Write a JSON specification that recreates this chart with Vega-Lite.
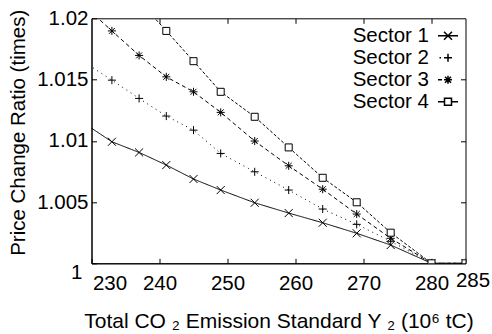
{
  "$schema": "https://vega.github.io/schema/vega-lite/v6.json",
  "width": 374,
  "height": 245,
  "autosize": {"type": "none"},
  "padding": {"left": 91.5, "top": 18.3, "right": 26.5, "bottom": 70.7},
  "background": "white",
  "config": {
    "view": {"stroke": "black", "strokeWidth": 1},
    "font": "Liberation Sans",
    "axis": {"grid": false, "domainColor": "black", "tickColor": "black", "labelColor": "black", "titleColor": "black", "labelFont": "Liberation Sans", "titleFont": "Liberation Sans", "titleFontWeight": "normal", "labelOverlap": false, "labelFlush": false}
  },
  "data": {
    "values": [
      {"sector": "Sector 1", "x": 229, "y": 1.0114},
      {"sector": "Sector 1", "x": 233, "y": 1.00992},
      {"sector": "Sector 1", "x": 237, "y": 1.00905},
      {"sector": "Sector 1", "x": 241, "y": 1.00802},
      {"sector": "Sector 1", "x": 245, "y": 1.00688},
      {"sector": "Sector 1", "x": 249, "y": 1.00598},
      {"sector": "Sector 1", "x": 254, "y": 1.00494},
      {"sector": "Sector 1", "x": 259, "y": 1.0041},
      {"sector": "Sector 1", "x": 264, "y": 1.00331},
      {"sector": "Sector 1", "x": 269, "y": 1.00245},
      {"sector": "Sector 1", "x": 274, "y": 1.00149},
      {"sector": "Sector 1", "x": 280, "y": 1.0},
      {"sector": "Sector 1", "x": 285, "y": 1.0},
      {"sector": "Sector 2", "x": 229, "y": 1.0164},
      {"sector": "Sector 2", "x": 233, "y": 1.01495},
      {"sector": "Sector 2", "x": 237, "y": 1.01346},
      {"sector": "Sector 2", "x": 241, "y": 1.01202},
      {"sector": "Sector 2", "x": 245, "y": 1.01087},
      {"sector": "Sector 2", "x": 249, "y": 1.00897},
      {"sector": "Sector 2", "x": 254, "y": 1.00747},
      {"sector": "Sector 2", "x": 259, "y": 1.00598},
      {"sector": "Sector 2", "x": 264, "y": 1.00443},
      {"sector": "Sector 2", "x": 269, "y": 1.00318},
      {"sector": "Sector 2", "x": 274, "y": 1.0018},
      {"sector": "Sector 2", "x": 280, "y": 1.0},
      {"sector": "Sector 2", "x": 285, "y": 1.0},
      {"sector": "Sector 3", "x": 229, "y": 1.021},
      {"sector": "Sector 3", "x": 233, "y": 1.01897},
      {"sector": "Sector 3", "x": 237, "y": 1.01697},
      {"sector": "Sector 3", "x": 241, "y": 1.01522},
      {"sector": "Sector 3", "x": 245, "y": 1.014},
      {"sector": "Sector 3", "x": 249, "y": 1.01232},
      {"sector": "Sector 3", "x": 254, "y": 1.00998},
      {"sector": "Sector 3", "x": 259, "y": 1.00796},
      {"sector": "Sector 3", "x": 264, "y": 1.00605},
      {"sector": "Sector 3", "x": 269, "y": 1.00402},
      {"sector": "Sector 3", "x": 274, "y": 1.00204},
      {"sector": "Sector 3", "x": 280, "y": 1.0},
      {"sector": "Sector 3", "x": 285, "y": 1.0},
      {"sector": "Sector 4", "x": 237, "y": 1.0214},
      {"sector": "Sector 4", "x": 241, "y": 1.01897},
      {"sector": "Sector 4", "x": 245, "y": 1.0165},
      {"sector": "Sector 4", "x": 249, "y": 1.014},
      {"sector": "Sector 4", "x": 254, "y": 1.01196},
      {"sector": "Sector 4", "x": 259, "y": 1.00946},
      {"sector": "Sector 4", "x": 264, "y": 1.00698},
      {"sector": "Sector 4", "x": 269, "y": 1.00498},
      {"sector": "Sector 4", "x": 274, "y": 1.0025},
      {"sector": "Sector 4", "x": 280, "y": 1.0},
      {"sector": "Sector 4", "x": 285, "y": 1.0}
    ]
  },
  "layer": [
    {
      "mark": {"type": "line", "clip": true, "color": "black", "strokeWidth": 1},
      "encoding": {
        "x": {
          "field": "x", "type": "quantitative",
          "scale": {"domain": [230, 285], "nice": false, "zero": false},
          "axis": {
            "orient": "bottom",
            "values": [230, 240, 250, 260, 270, 280, 285],
            "tickSize": -5, "labelFontSize": 20.5,
            "labelPadding": {"condition": {"test": "datum.value === 285", "value": 12}, "value": 15.5},
            "labelOffset": {"condition": [{"test": "datum.value === 230", "value": 18}, {"test": "datum.value === 285", "value": 7}], "value": 0},
            "title": "Total CO ₂ Emission Standard Y ₂  (10⁶ tC)",
            "titleFontSize": 21, "titleX": 187, "titleY": 63.7, "titleBaseline": "alphabetic", "titleAlign": "center"
          }
        },
        "y": {
          "field": "y", "type": "quantitative",
          "scale": {"domain": [1, 1.02], "nice": false, "zero": false},
          "axis": {
            "orient": "left",
            "values": [1, 1.005, 1.01, 1.015, 1.02],
            "format": "~g",
            "tickSize": -5, "labelFontSize": 20.5,
            "labelPadding": {"condition": {"test": "datum.value === 1", "value": 14.5}, "value": 8.5},
            "labelOffset": {"condition": {"test": "datum.value === 1", "value": 9}, "value": 0},
            "title": "Price Change Ratio (times)",
            "titleFontSize": 20.5, "titleX": -73, "titleY": 114, "titleAngle": 270, "titleBaseline": "middle", "titleAlign": "center"
          }
        },
        "strokeDash": {
          "field": "sector", "type": "nominal",
          "scale": {"domain": ["Sector 1", "Sector 2", "Sector 3", "Sector 4"], "range": [[1, 0], [1, 4], [4, 3], [3, 2]]},
          "legend": null
        }
      }
    },
    {
      "mark": {"type": "point", "clip": true, "fill": "white", "stroke": "black", "strokeWidth": 1, "opacity": 1, "fillOpacity": 1, "size": 49},
      "encoding": {
        "x": {
          "field": "x", "type": "quantitative",
          "axis": {"orient": "top", "values": [240, 250, 260, 270, 280], "labels": false, "domain": false, "tickSize": -5, "title": null}
        },
        "y": {
          "field": "y", "type": "quantitative",
          "axis": {"orient": "right", "values": [1.005, 1.01, 1.015], "labels": false, "domain": false, "tickSize": -5, "title": null}
        },
        "shape": {
          "field": "sector", "type": "nominal",
          "scale": {"domain": ["Sector 1", "Sector 2", "Sector 3", "Sector 4"], "range": [
            "M-1.15,-1.15L1.15,1.15M-1.15,1.15L1.15,-1.15",
            "M-1.15,0L1.15,0M0,-1.15L0,1.15",
            "M-1.15,0L1.15,0M0,-1.15L0,1.15M-0.85,-0.85L0.85,0.85M-0.85,0.85L0.85,-0.85",
            "square"
          ]},
          "legend": null
        }
      }
    },
    {
      "transform": [{"filter": "datum.x > 1000"}],
      "mark": {"type": "point", "filled": false, "color": "black", "strokeWidth": 1, "opacity": 1},
      "encoding": {
        "shape": {
          "field": "sector", "type": "nominal",
          "scale": {"domain": ["Sector 1", "Sector 2", "Sector 3", "Sector 4"], "range": [
            "M-1,0L1,0M-0.4,-0.4L0.4,0.4M-0.4,0.4L0.4,-0.4",
            "M-0.85,0L-0.7,0M-0.4,0L0.4,0M0,-0.4L0,0.4",
            "M-1,0L-0.6,0M-0.4,0L0.4,0M0,-0.4L0,0.4M-0.3,-0.3L0.3,0.3M-0.3,0.3L0.3,-0.3",
            "M-1,0L-0.35,0M0.35,0L1,0M-0.35,-0.35L0.35,-0.35L0.35,0.35L-0.35,0.35Z"
          ]},
          "legend": {
            "title": null, "orient": "none", "legendX": 345.5, "legendY": 6.5, "padding": 0,
            "labelFontSize": 20.5, "labelFont": "Liberation Sans", "labelColor": "black",
            "labelAlign": "right", "labelOffset": -30, "symbolSize": 400, "rowPadding": -1
          }
        }
      }
    }
  ],
  "resolve": {"axis": {"x": "independent", "y": "independent"}, "scale": {"shape": "independent"}}
}
